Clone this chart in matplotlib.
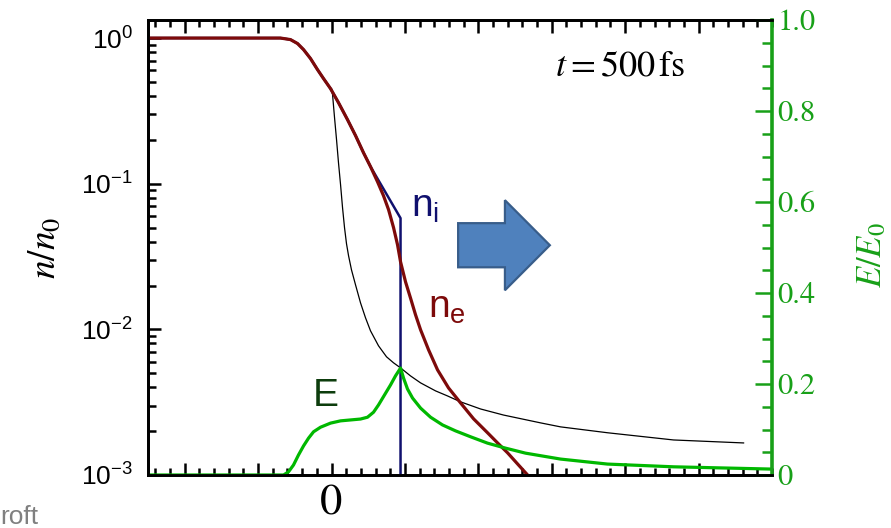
import numpy as np
import matplotlib.pyplot as plt
from matplotlib.patches import FancyArrow
from matplotlib.ticker import (MultipleLocator, FixedLocator, FixedFormatter,
                               NullFormatter)

plt.rcParams['font.family'] = ['Liberation Sans', 'DejaVu Sans']
plt.rcParams['mathtext.fontset'] = 'stix'

# electron density n_e / n_0
x_ne = [-2.5, -0.695, -0.559, -0.463, -0.381, -0.286, -0.191, -0.109, -0.014,
        0.095, 0.218, 0.327, 0.436, 0.531, 0.627, 0.708, 0.777, 0.845, 0.899,
        0.940, 1.008, 1.076, 1.144, 1.213, 1.322, 1.444, 1.594, 1.757, 1.935,
        2.125, 2.262, 2.398, 2.548, 2.711]
n_e = [1.0, 1.0, 0.976, 0.917, 0.833, 0.723, 0.607, 0.527, 0.450,
       0.360, 0.275, 0.214, 0.163, 0.131, 0.103, 0.0827, 0.0663, 0.0499, 0.0381,
       0.0291, 0.0212, 0.0164, 0.0126, 0.00993, 0.00723, 0.00527, 0.00396,
       0.00313, 0.00243, 0.00195, 0.00166, 0.00142, 0.00117, 0.00095]

# ion density n_i / n_0 (sharp ion front)
x_ni = [-2.5, -0.695, -0.559, -0.463, -0.381, -0.286, -0.191, -0.109, -0.014,
        0.095, 0.218, 0.327, 0.436, 0.531, 0.940, 0.940]
n_i = [1.0, 1.0, 0.976, 0.917, 0.833, 0.723, 0.607, 0.527, 0.450,
       0.360, 0.275, 0.214, 0.163, 0.131, 0.058, 1e-4]

# reference profile
x_ref = [0.0, 0.014, 0.041, 0.068, 0.095, 0.123, 0.150, 0.177, 0.204, 0.232,
         0.272, 0.327, 0.395, 0.463, 0.531, 0.640, 0.749, 0.845, 0.940, 1.076,
         1.213, 1.417, 1.580, 1.757, 2.030, 2.343, 2.847, 3.120, 3.760, 4.659,
         5.613]
n_ref = [0.450, 0.409, 0.284, 0.201, 0.139, 0.0984, 0.0684, 0.0499, 0.0387,
         0.0320, 0.0256, 0.0202, 0.0152, 0.0120, 0.00977, 0.00771, 0.00648,
         0.00589, 0.00544, 0.00479, 0.00429, 0.00378, 0.00349, 0.00318, 0.00284,
         0.00258, 0.00228, 0.00214, 0.00195, 0.00174, 0.00166]

# electric field E / E_0
x_E = [-2.5, -0.654, -0.586, -0.518, -0.450, -0.381, -0.313, -0.245, -0.150,
       -0.014, 0.123, 0.259, 0.395, 0.490, 0.572, 0.640, 0.722, 0.804, 0.872,
       0.940, 0.981, 1.035, 1.104, 1.213, 1.349, 1.512, 1.689, 1.894, 2.125,
       2.371, 2.643, 3.120, 3.760, 4.659, 6.0]
E = [0.0, 0.0, 0.007, 0.022, 0.044, 0.064, 0.081, 0.095, 0.105,
     0.114, 0.119, 0.121, 0.123, 0.127, 0.138, 0.154, 0.176, 0.198, 0.218,
     0.235, 0.213, 0.189, 0.169, 0.147, 0.127, 0.110, 0.097, 0.084, 0.070,
     0.059, 0.048, 0.035, 0.024, 0.018, 0.013]

c_ne = '#7d0a0a'
c_ni = '#10106e'
c_E = '#00b800'
c_axis = '#18a018'

fig = plt.figure(figsize=(8.91, 5.28), dpi=100)
ax = fig.add_axes([148/891, 53/528, 624/891, 455/528])
ax2 = ax.twinx()

ax.plot(x_ref, n_ref, color='black', lw=0.9, zorder=2)
ax.plot(x_ni, n_i, color=c_ni, lw=1.8, zorder=3)
ax.plot(x_ne, n_e, color=c_ne, lw=2.3, zorder=4)
ax2.plot(x_E, E, color=c_E, lw=2.3)

ax.set_yscale('log')
ax.set_xlim(-2.5, 6.0)
ax.set_ylim(1e-3, 10**0.124)
ax2.set_ylim(0, 1.0)

# log minor ticks, 2..9 in each decade
minor_y = [k * 10.0**e for e in (-3, -2, -1) for k in range(2, 10)]
ax.yaxis.set_minor_locator(FixedLocator(minor_y))
ax.yaxis.set_minor_formatter(NullFormatter())

# x axis: only the origin carries a label
ax.set_xticks(np.arange(-2, 6))
ax.xaxis.set_minor_locator(MultipleLocator(0.2))
ax.set_xticklabels(['', '', '0', '', '', '', '', ''])
ax.tick_params(axis='x', which='both', direction='in', top=True, width=1.8,
               labelsize=32, pad=7)
ax.tick_params(axis='x', which='major', length=9)
ax.tick_params(axis='x', which='minor', length=5)
for lab in ax.get_xticklabels():
    lab.set_fontfamily('STIXGeneral')

ax.tick_params(axis='y', which='both', direction='in', right=False, width=1.8,
               labelsize=19, pad=11)
ax.tick_params(axis='y', which='major', length=9)
ax.tick_params(axis='y', which='minor', length=6)

# right axis for the field
ax2.yaxis.set_major_locator(FixedLocator([0, 0.2, 0.4, 0.6, 0.8, 1.0]))
ax2.yaxis.set_major_formatter(FixedFormatter(['0', '0.2', '0.4', '0.6', '0.8', '1.0']))
ax2.yaxis.set_minor_locator(MultipleLocator(0.05))
ax2.yaxis.set_minor_formatter(NullFormatter())
ax2.tick_params(axis='y', which='both', direction='in', colors=c_axis, width=1.8,
                labelsize=22, pad=4)
ax2.tick_params(axis='y', which='major', length=12)
ax2.tick_params(axis='y', which='minor', length=7)
for lab in ax2.get_yticklabels():
    lab.set_fontfamily('STIXGeneral')

for s in ['left', 'top', 'bottom']:
    ax.spines[s].set_linewidth(2.0)
    ax2.spines[s].set_linewidth(2.0)
ax2.spines['right'].set_color(c_axis)
ax2.spines['right'].set_linewidth(2.6)
ax.spines['right'].set_visible(False)

fig.text(45/891, 1 - 248/528, r'$n/n_0$', rotation=90, ha='center', va='center',
         fontsize=27)
fig.text(872/891, 1 - 255/528, r'$E/E_0$', rotation=90, ha='center', va='center',
         fontsize=25, color=c_axis)

ax.text(0.652, 0.879, r'$t = 500\,\mathrm{fs}$', transform=ax.transAxes,
        ha='left', va='baseline', fontsize=26)

ax.text(1.08, 0.059, r'$\mathregular{n_i}$', color=c_ni, fontsize=28,
        ha='left', va='baseline')
ax.text(1.31, 0.0121, r'$\mathregular{n_e}$', color=c_ne, fontsize=28,
        ha='left', va='baseline')
ax.text(-0.25, 0.00297, 'E', color='#0d3d0d', fontsize=28,
        ha='left', va='baseline')

# block arrow pointing right
arrow = FancyArrow(0.497, 0.505, 0.147, 0.0, width=0.097, head_width=0.198,
                   head_length=0.072, length_includes_head=True,
                   transform=ax.transAxes, facecolor='#4f81bd',
                   edgecolor='#385d8a', linewidth=1.6, zorder=5)
ax.add_patch(arrow)

fig.text(0.0, 4/528, 'roft', color='#808080', fontsize=19, ha='left',
         va='baseline')

fig.savefig('out.png', dpi=100)
